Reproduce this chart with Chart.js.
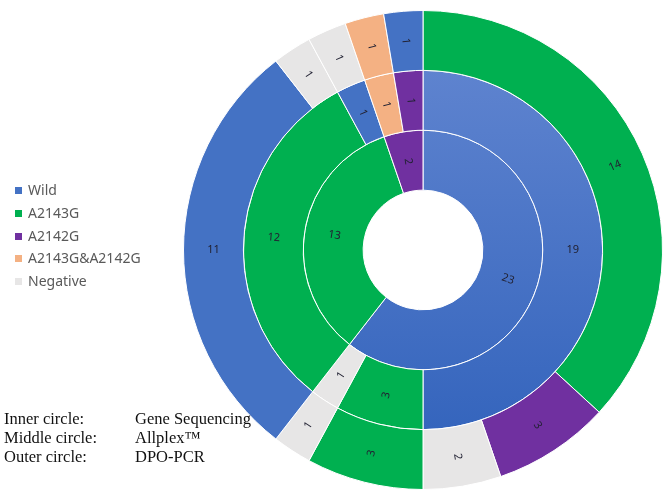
<!DOCTYPE html>
<html>
<head>
<meta charset="utf-8">
<script src="https://cdn.jsdelivr.net/npm/chart.js@4/dist/chart.umd.min.js"></script>
<style>
  html, body { margin: 0; padding: 0; background: #fff; }
  #wrap { position: relative; width: 669px; height: 502px; overflow: hidden; }
  #c { position: absolute; left: 0; top: 0; }
  #legend { position: absolute; left: 15px; top: 179px; font-family: "Noto Sans", sans-serif; font-size: 14px; color: #595959; }
  #legend .row { height: 22.8px; line-height: 22.8px; white-space: nowrap; }
  #legend .sw { display: inline-block; width: 7px; height: 7px; margin-right: 6px; vertical-align: 1px; }
  #caption { position: absolute; left: 4px; top: 409px; font-family: "Liberation Serif", "Times New Roman", serif; font-size: 16.5px; color: #111; }
  #caption .row { height: 19px; line-height: 19px; white-space: nowrap; }
  #caption .k { display: inline-block; width: 131px; }
</style>
</head>
<body>
<div id="wrap">
  <canvas id="c" width="669" height="502"></canvas>
  <div id="legend"></div>
  <div id="caption"></div>
</div>
<script>
// ---- data ----
const categories = ["Wild", "A2143G", "A2142G", "A2143G&A2142G", "Negative"];

// Inner circle: Gene Sequencing
const innerValues = [23, 13, 2];
const innerCats   = ["Wild", "A2143G", "A2142G"];

// Middle circle: Allplex
const middleValues = [19, 3, 1, 12, 1, 1, 1];
const middleCats   = ["Wild", "A2143G", "Negative", "A2143G", "Wild", "A2143G&A2142G", "A2142G"];

// Outer circle: DPO-PCR
const outerValues = [14, 3, 2, 3, 1, 11, 1, 1, 1, 1];
const outerCats   = ["A2143G", "A2142G", "Negative", "A2143G", "Negative", "Wild", "Negative", "Negative", "A2143G&A2142G", "Wild"];

const captionKeys = ["Inner circle:", "Middle circle:", "Outer circle:"];
const captionVals = ["Gene Sequencing", "Allplex\u2122", "DPO-PCR"];

// ---- styles ----
const catColors = {
  "Wild": "#4472C4",
  "A2143G": "#00B050",
  "A2142G": "#7030A0",
  "A2143G&A2142G": "#F4B183",
  "Negative": "#E7E6E6"
};

function gradBlue(chart) {
  const g = chart.ctx.createLinearGradient(0, 70, 0, 430);
  g.addColorStop(0, "#5E83CF");
  g.addColorStop(1, "#3565BD");
  return g;
}

function colorFor(cats, useGrad) {
  return function (ctx) {
    const cat = cats[ctx.dataIndex];
    if (useGrad && cat === "Wild" && ctx.dataIndex === 0) return gradBlue(ctx.chart);
    return catColors[cat];
  };
}

// legend & caption (text)
const legendEl = document.getElementById("legend");
categories.forEach(c => {
  const row = document.createElement("div");
  row.className = "row";
  const sw = document.createElement("span");
  sw.className = "sw";
  sw.style.background = catColors[c];
  row.appendChild(sw);
  row.appendChild(document.createTextNode(c));
  legendEl.appendChild(row);
});
const capEl = document.getElementById("caption");
captionKeys.forEach((k, i) => {
  const row = document.createElement("div");
  row.className = "row";
  const a = document.createElement("span");
  a.className = "k";
  a.textContent = k;
  row.appendChild(a);
  row.appendChild(document.createTextNode(captionVals[i]));
  capEl.appendChild(row);
});

// radial value labels
const radialLabels = {
  id: "radialLabels",
  afterDatasetsDraw(chart) {
    const ctx = chart.ctx;
    ctx.save();
    ctx.font = '11px "Noto Sans", sans-serif';
    ctx.fillStyle = "#222233";
    ctx.textAlign = "center";
    ctx.textBaseline = "middle";
    chart.data.datasets.forEach((ds, di) => {
      const meta = chart.getDatasetMeta(di);
      meta.data.forEach((arc, i) => {
        const p = arc.getProps(["x", "y", "startAngle", "endAngle", "innerRadius", "outerRadius"], true);
        const mid = (p.startAngle + p.endAngle) / 2;
        const r = (p.innerRadius + p.outerRadius) / 2;
        const x = p.x + Math.cos(mid) * r;
        const y = p.y + Math.sin(mid) * r;
        let rot = mid;
        if (Math.cos(mid) < -1e-6) rot = mid + Math.PI;
        ctx.save();
        ctx.translate(x, y);
        ctx.rotate(rot);
        ctx.fillText(String(ds.data[i]), 0, 0);
        ctx.restore();
      });
    });
    ctx.restore();
  }
};

new Chart(document.getElementById("c"), {
  type: "doughnut",
  data: {
    datasets: [
      { label: "DPO-PCR", data: outerValues, backgroundColor: colorFor(outerCats, false) },
      { label: "Allplex", data: middleValues, backgroundColor: colorFor(middleCats, true) },
      { label: "Gene Sequencing", data: innerValues, backgroundColor: colorFor(innerCats, true) }
    ]
  },
  options: {
    responsive: false,
    animation: false,
    cutout: "25%",
    layout: { padding: { left: 183, right: 6, top: 10, bottom: 12 } },
    elements: { arc: { borderWidth: 1, borderColor: "#ffffff", offset: 0, hoverOffset: 0 } },
    plugins: { legend: { display: false }, tooltip: { enabled: false } }
  },
  plugins: [radialLabels]
});
</script>
</body>
</html>
